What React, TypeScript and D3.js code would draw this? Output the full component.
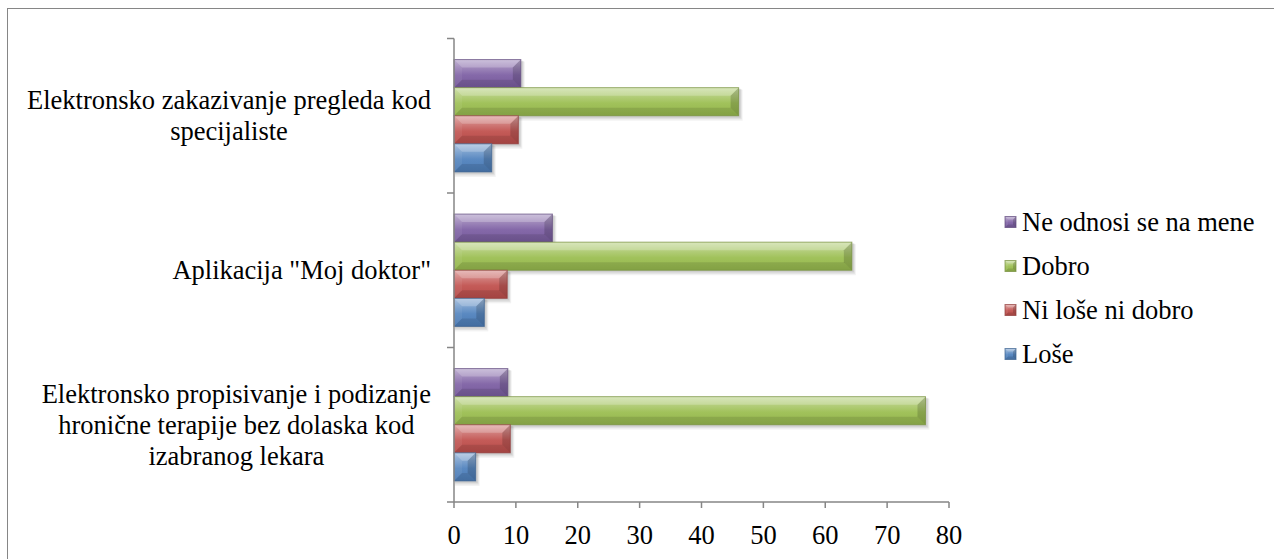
import React, { useLayoutEffect, useRef, useState } from "react";
import * as d3 from "d3";

// Category labels (top to bottom) and series values
const categories = [
  "Elektronsko zakazivanje pregleda kod specijaliste",
  'Aplikacija "Moj doktor"',
  "Elektronsko propisivanje i podizanje hronične terapije bez dolaska kod izabranog lekara",
];
const categoryLines = [
  ["Elektronsko zakazivanje pregleda kod", "specijaliste"],
  ['Aplikacija "Moj doktor"'],
  ["Elektronsko propisivanje i podizanje", "hronične terapije bez dolaska kod", "izabranog lekara"],
];
// series drawn top to bottom inside each category
const seriesNames = ["Ne odnosi se na mene", "Dobro", "Ni loše ni dobro", "Loše"];
const neOdnosi = [10.8, 15.9, 8.7];
const dobro = [46.0, 64.3, 76.2];
const niLoseNiDobro = [10.4, 8.6, 9.1];
const lose = [6.1, 4.9, 3.5];
const seriesValues = [neOdnosi, dobro, niLoseNiDobro, lose];
const seriesColors = ["#7D5FA3", "#9BBE50", "#C0504D", "#4F81BD"];
const xTicks = [0, 10, 20, 30, 40, 50, 60, 70, 80];

const W = 1274;
const H = 559;
const FONT = "'Tinos', 'Times New Roman', 'Nimbus Roman', 'FreeSerif', 'Liberation Serif', serif";
const FS = 26.5;
const BASE = 9; // baseline offset from a text line's centre

function BevelBar({ x, y, w, h, color, id, shadow = true, bevel = 8 }: { x: number; y: number; w: number; h: number; color: string; id: string; shadow?: boolean; bevel?: number }) {
  const c = d3.color(color)!;
  const lighten = (t: number) => d3.interpolateRgb(color, "#ffffff")(t);
  const dark = c.darker(0.8).formatHex();
  const b = Math.min(bevel, h / 2, w / 2);
  const x1 = x + w;
  const y1 = y + h;
  return (
    <g>
      <defs>
        <linearGradient id={id} x1="0" y1="0" x2="0" y2="1">
          <stop offset="0" stopColor={lighten(0.5)} />
          <stop offset="0.3" stopColor={lighten(0.25)} />
          <stop offset="0.55" stopColor={lighten(0.06)} />
          <stop offset="1" stopColor={c.darker(0.15).formatHex()} />
        </linearGradient>
      </defs>
      {shadow && (
        <g fill="#000">
          <rect x={x + 1} y={y + 2} width={w + 3} height={h + 3} opacity={0.05} />
          <rect x={x + 1} y={y + 1.5} width={w + 2} height={h + 2} opacity={0.07} />
          <rect x={x + 1} y={y + 1} width={w + 1} height={h + 1} opacity={0.08} />
        </g>
      )}
      <rect x={x} y={y} width={w} height={h} fill={`url(#${id})`} />
      {/* bevel faces */}
      <polygon points={`${x},${y} ${x1},${y} ${x1 - b},${y + b} ${x + b},${y + b}`} fill="#ffffff" opacity={0.22} />
      <polygon points={`${x},${y1} ${x1},${y1} ${x1 - b},${y1 - b} ${x + b},${y1 - b}`} fill="#000000" opacity={0.1} />
      <polygon points={`${x},${y} ${x + b},${y + b} ${x + b},${y1 - b} ${x},${y1}`} fill="#ffffff" opacity={0.06} />
      <polygon points={`${x1},${y} ${x1 - b},${y + b} ${x1 - b},${y1 - b} ${x1},${y1}`} fill="#000000" opacity={0.16} />
      <rect x={x} y={y} width={w} height={h} fill="none" stroke={dark} strokeWidth={1} strokeOpacity={0.7} />
    </g>
  );
}

export default function App() {
  const x = d3.scaleLinear().domain([0, 80]).range([454, 949]);
  const y = d3.scaleBand<number>().domain(d3.range(categories.length)).range([38.5, 502]).paddingInner(0).paddingOuter(0);
  const sub = d3.scaleBand<number>().domain(d3.range(seriesNames.length)).range([0, y.bandwidth()]).paddingInner(0).paddingOuter(0.75);

  const axisColor = "#868686";
  const boundaries = d3.range(categories.length + 1).map((i) => (i < categories.length ? y(i)! : y.range()[1]));

  const legendY = [222, 266, 310, 354];

  // widest line of each category label, measured from the rendered text
  const labelRefs = useRef<(SVGTextElement | null)[]>([]);
  const [blockWidths, setBlockWidths] = useState<number[]>([400, 260, 395]);
  useLayoutEffect(() => {
    const widths = categoryLines.map((lines, ci) => {
      const el = labelRefs.current[ci];
      if (!el) return 0;
      const spans = Array.from(el.querySelectorAll("tspan")) as SVGTextContentElement[];
      return d3.max(spans, (s) => s.getComputedTextLength()) || 0;
    });
    if (widths.some((w, i) => Math.abs(w - blockWidths[i]) > 0.5)) setBlockWidths(widths);
  });

  return (
    <svg width={W} height={H} style={{ position: "absolute", left: 0, top: 0, background: "#fff" }}>
      {/* chart frame */}
      <rect x={7.5} y={8.5} width={1300} height={600} fill="#fff" stroke={axisColor} strokeWidth={1} />

      {/* bars */}
      {categories.map((_, ci) =>
        seriesNames.map((_, si) => {
          const v = seriesValues[si][ci];
          return (
            <BevelBar
              key={`${ci}-${si}`}
              id={`g-${ci}-${si}`}
              x={x(0)}
              y={y(ci)! + sub(si)!}
              w={x(v) - x(0)}
              h={sub.bandwidth()}
              color={seriesColors[si]}
            />
          );
        })
      )}

      {/* category axis */}
      <line x1={x(0)} x2={x(0)} y1={boundaries[0]} y2={boundaries[boundaries.length - 1]} stroke={axisColor} strokeWidth={1.5} />
      {boundaries.map((b, i) => (
        <line key={i} x1={447} x2={x(0)} y1={b} y2={b} stroke={axisColor} strokeWidth={1.5} />
      ))}

      {/* value axis */}
      <line x1={x(0)} x2={x(80)} y1={502} y2={502} stroke={axisColor} strokeWidth={1.5} />
      {xTicks.map((t) => (
        <g key={t}>
          <line x1={x(t)} x2={x(t)} y1={502} y2={508} stroke={axisColor} strokeWidth={1.5} />
          <text x={x(t)} y={544} textAnchor="middle" fontSize={FS} style={{ fontFamily: FONT }}>
            {t}
          </text>
        </g>
      ))}

      {/* category labels: each block right-aligned at the axis, lines centred */}
      {categoryLines.map((lines, ci) => {
        const cx = 431 - blockWidths[ci] / 2;
        const cy = y(ci)! + y.bandwidth() / 2;
        const lh = 31;
        const top = cy - ((lines.length - 1) * lh) / 2;
        return (
          <text
            key={ci}
            ref={(el) => {
              labelRefs.current[ci] = el;
            }}
            textAnchor="middle"
            fontSize={FS}
            style={{ fontFamily: FONT }}
          >
            {lines.map((l, li) => (
              <tspan key={li} x={cx} y={top + li * lh + BASE}>
                {l}
              </tspan>
            ))}
          </text>
        );
      })}

      {/* legend */}
      {seriesNames.map((s, si) => (
        <g key={s}>
          <BevelBar id={`lg-${si}`} x={1005} y={legendY[si] - 5.5} w={11} h={11} color={seriesColors[si]} shadow={false} bevel={3} />
          <text x={1022} y={legendY[si] + BASE} fontSize={FS} style={{ fontFamily: FONT }}>
            {s}
          </text>
        </g>
      ))}
    </svg>
  );
}
